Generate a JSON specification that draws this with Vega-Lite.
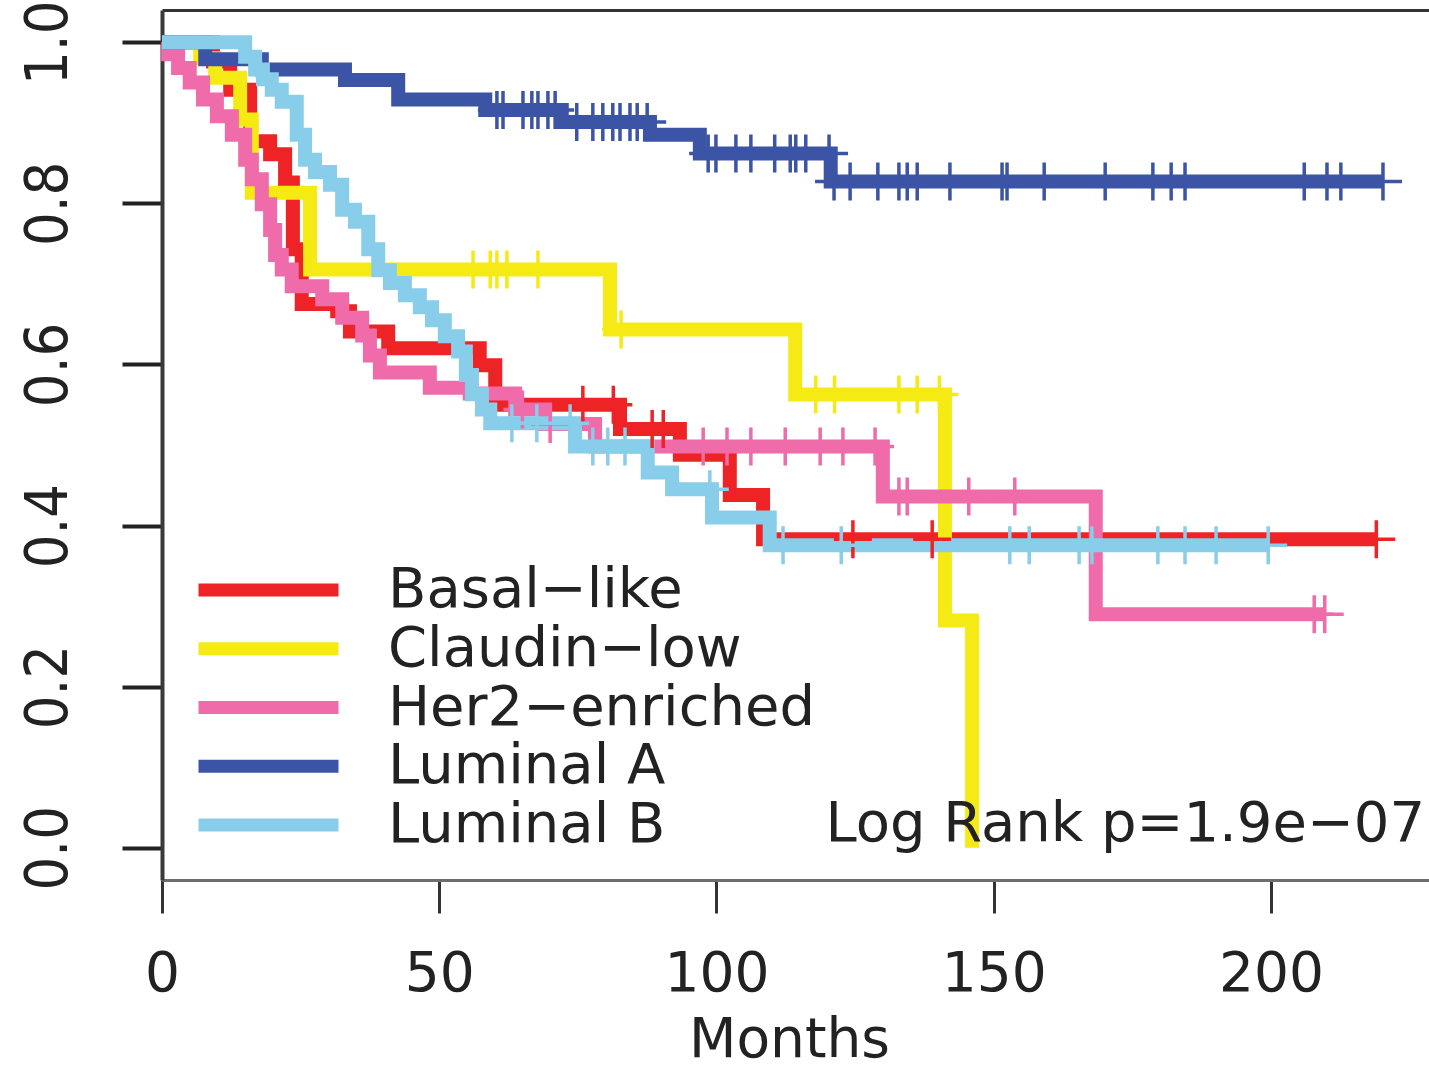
{
  "$schema": "https://vega.github.io/schema/vega-lite/v6.json",
  "width": 1267,
  "height": 870,
  "autosize": {"type": "none"},
  "padding": {"left": 162, "top": 10, "right": 0, "bottom": 191},
  "background": "white",
  "config": {
    "view": {"stroke": null},
    "font": "DejaVu Sans",
    "axisY": {
      "grid": false,
      "domain": true,
      "domainColor": "#3a3a3a",
      "domainWidth": 4,
      "ticks": true,
      "tickSize": 40,
      "tickWidth": 4,
      "tickColor": "#222222",
      "labelAngle": 270,
      "labelAlign": "center",
      "labelBaseline": "bottom",
      "labelPadding": 44,
      "labelFontSize": 59,
      "labelFont": "Liberation Sans Narrow, DejaVu Sans Condensed, Liberation Sans",
      "labelColor": "#222222",
      "labelFlush": false,
      "labelOverlap": false,
      "title": null
    }
  },
  "datasets": {
    "curves": [
      {"group": "Basal-like", "months": 0, "surv": 1},
      {"group": "Basal-like", "months": 9.2, "surv": 0.976},
      {"group": "Basal-like", "months": 12.3, "surv": 0.941},
      {"group": "Basal-like", "months": 15.9, "surv": 0.877},
      {"group": "Basal-like", "months": 19.5, "surv": 0.861},
      {"group": "Basal-like", "months": 22.2, "surv": 0.826},
      {"group": "Basal-like", "months": 23.6, "surv": 0.743},
      {"group": "Basal-like", "months": 25.2, "surv": 0.675},
      {"group": "Basal-like", "months": 31.6, "surv": 0.666},
      {"group": "Basal-like", "months": 33.9, "surv": 0.641},
      {"group": "Basal-like", "months": 40.8, "surv": 0.62},
      {"group": "Basal-like", "months": 57.3, "surv": 0.599},
      {"group": "Basal-like", "months": 60.1, "surv": 0.55},
      {"group": "Basal-like", "months": 82.6, "surv": 0.52},
      {"group": "Basal-like", "months": 93.4, "surv": 0.488},
      {"group": "Basal-like", "months": 102.4, "surv": 0.438},
      {"group": "Basal-like", "months": 108.4, "surv": 0.383},
      {"group": "Basal-like", "months": 219, "surv": 0.383},
      {"group": "Claudin-low", "months": 0, "surv": 1},
      {"group": "Claudin-low", "months": 6.9, "surv": 0.98},
      {"group": "Claudin-low", "months": 9.6, "surv": 0.956},
      {"group": "Claudin-low", "months": 14.1, "surv": 0.904},
      {"group": "Claudin-low", "months": 16.2, "surv": 0.813},
      {"group": "Claudin-low", "months": 26.7, "surv": 0.718},
      {"group": "Claudin-low", "months": 80.8, "surv": 0.6435},
      {"group": "Claudin-low", "months": 114.2, "surv": 0.5628},
      {"group": "Claudin-low", "months": 141.2, "surv": 0.282},
      {"group": "Claudin-low", "months": 146.1, "surv": 0},
      {"group": "Her2-enriched", "months": 0, "surv": 1},
      {"group": "Her2-enriched", "months": 1.1, "surv": 0.985},
      {"group": "Her2-enriched", "months": 2.9, "surv": 0.968},
      {"group": "Her2-enriched", "months": 5.0, "surv": 0.95},
      {"group": "Her2-enriched", "months": 7.4, "surv": 0.929},
      {"group": "Her2-enriched", "months": 9.9, "surv": 0.908},
      {"group": "Her2-enriched", "months": 12.6, "surv": 0.885},
      {"group": "Her2-enriched", "months": 15.0, "surv": 0.854},
      {"group": "Her2-enriched", "months": 16.2, "surv": 0.83},
      {"group": "Her2-enriched", "months": 18.0, "surv": 0.799},
      {"group": "Her2-enriched", "months": 19.5, "surv": 0.767},
      {"group": "Her2-enriched", "months": 20.4, "surv": 0.736},
      {"group": "Her2-enriched", "months": 21.6, "surv": 0.718},
      {"group": "Her2-enriched", "months": 23.4, "surv": 0.697},
      {"group": "Her2-enriched", "months": 28.9, "surv": 0.681},
      {"group": "Her2-enriched", "months": 32.5, "surv": 0.658},
      {"group": "Her2-enriched", "months": 36.1, "surv": 0.636},
      {"group": "Her2-enriched", "months": 37.5, "surv": 0.611},
      {"group": "Her2-enriched", "months": 39.3, "surv": 0.59},
      {"group": "Her2-enriched", "months": 48.3, "surv": 0.571},
      {"group": "Her2-enriched", "months": 55.5, "surv": 0.564},
      {"group": "Her2-enriched", "months": 63.7, "surv": 0.544},
      {"group": "Her2-enriched", "months": 69.1, "surv": 0.526},
      {"group": "Her2-enriched", "months": 78.1, "surv": 0.498},
      {"group": "Her2-enriched", "months": 130.0, "surv": 0.436},
      {"group": "Her2-enriched", "months": 168.4, "surv": 0.29},
      {"group": "Her2-enriched", "months": 209.7, "surv": 0.29},
      {"group": "Luminal A", "months": 0, "surv": 1},
      {"group": "Luminal A", "months": 7.8, "surv": 0.979},
      {"group": "Luminal A", "months": 18.0, "surv": 0.966},
      {"group": "Luminal A", "months": 33.0, "surv": 0.953},
      {"group": "Luminal A", "months": 42.6, "surv": 0.929},
      {"group": "Luminal A", "months": 58.3, "surv": 0.916},
      {"group": "Luminal A", "months": 72.1, "surv": 0.901},
      {"group": "Luminal A", "months": 88.0, "surv": 0.885},
      {"group": "Luminal A", "months": 97.0, "surv": 0.862},
      {"group": "Luminal A", "months": 120.6, "surv": 0.827},
      {"group": "Luminal A", "months": 220.2, "surv": 0.827},
      {"group": "Luminal B", "months": 0, "surv": 1},
      {"group": "Luminal B", "months": 15.0, "surv": 0.982},
      {"group": "Luminal B", "months": 16.8, "surv": 0.966},
      {"group": "Luminal B", "months": 18.2, "surv": 0.954},
      {"group": "Luminal B", "months": 19.8, "surv": 0.941},
      {"group": "Luminal B", "months": 21.6, "surv": 0.926},
      {"group": "Luminal B", "months": 24.3, "surv": 0.885},
      {"group": "Luminal B", "months": 25.8, "surv": 0.854},
      {"group": "Luminal B", "months": 27.6, "surv": 0.839},
      {"group": "Luminal B", "months": 30.3, "surv": 0.823},
      {"group": "Luminal B", "months": 32.5, "surv": 0.792},
      {"group": "Luminal B", "months": 34.8, "surv": 0.777},
      {"group": "Luminal B", "months": 37.2, "surv": 0.743},
      {"group": "Luminal B", "months": 39.0, "surv": 0.717},
      {"group": "Luminal B", "months": 41.1, "surv": 0.701},
      {"group": "Luminal B", "months": 43.8, "surv": 0.686},
      {"group": "Luminal B", "months": 46.5, "surv": 0.671},
      {"group": "Luminal B", "months": 48.7, "surv": 0.655},
      {"group": "Luminal B", "months": 51.0, "surv": 0.635},
      {"group": "Luminal B", "months": 53.4, "surv": 0.616},
      {"group": "Luminal B", "months": 54.8, "surv": 0.587},
      {"group": "Luminal B", "months": 55.9, "surv": 0.563},
      {"group": "Luminal B", "months": 57.7, "surv": 0.544},
      {"group": "Luminal B", "months": 59.2, "surv": 0.527},
      {"group": "Luminal B", "months": 74.5, "surv": 0.498},
      {"group": "Luminal B", "months": 87.6, "surv": 0.466},
      {"group": "Luminal B", "months": 92.0, "surv": 0.445},
      {"group": "Luminal B", "months": 99.2, "surv": 0.41},
      {"group": "Luminal B", "months": 109.6, "surv": 0.3755},
      {"group": "Luminal B", "months": 199.5, "surv": 0.3755}
    ],
    "censor": [
      {"group": "Basal-like", "months": 75.9, "surv": 0.55},
      {"group": "Basal-like", "months": 81.4, "surv": 0.55},
      {"group": "Basal-like", "months": 88.4, "surv": 0.52},
      {"group": "Basal-like", "months": 90.4, "surv": 0.52},
      {"group": "Basal-like", "months": 124.6, "surv": 0.383},
      {"group": "Basal-like", "months": 138.9, "surv": 0.383},
      {"group": "Basal-like", "months": 219, "surv": 0.383},
      {"group": "Claudin-low", "months": 56.1, "surv": 0.718},
      {"group": "Claudin-low", "months": 59.2, "surv": 0.718},
      {"group": "Claudin-low", "months": 60.4, "surv": 0.718},
      {"group": "Claudin-low", "months": 62.2, "surv": 0.718},
      {"group": "Claudin-low", "months": 67.8, "surv": 0.718},
      {"group": "Claudin-low", "months": 82.8, "surv": 0.6435},
      {"group": "Claudin-low", "months": 117.9, "surv": 0.5628},
      {"group": "Claudin-low", "months": 121.3, "surv": 0.5628},
      {"group": "Claudin-low", "months": 132.9, "surv": 0.5628},
      {"group": "Claudin-low", "months": 136.2, "surv": 0.5628},
      {"group": "Claudin-low", "months": 140.2, "surv": 0.5628},
      {"group": "Her2-enriched", "months": 65.0, "surv": 0.544},
      {"group": "Her2-enriched", "months": 70.0, "surv": 0.526},
      {"group": "Her2-enriched", "months": 97.6, "surv": 0.498},
      {"group": "Her2-enriched", "months": 101.9, "surv": 0.498},
      {"group": "Her2-enriched", "months": 106.2, "surv": 0.498},
      {"group": "Her2-enriched", "months": 112.4, "surv": 0.498},
      {"group": "Her2-enriched", "months": 118.7, "surv": 0.498},
      {"group": "Her2-enriched", "months": 122.8, "surv": 0.498},
      {"group": "Her2-enriched", "months": 128.6, "surv": 0.498},
      {"group": "Her2-enriched", "months": 132.9, "surv": 0.436},
      {"group": "Her2-enriched", "months": 134.4, "surv": 0.436},
      {"group": "Her2-enriched", "months": 145.5, "surv": 0.436},
      {"group": "Her2-enriched", "months": 153.8, "surv": 0.436},
      {"group": "Her2-enriched", "months": 207.8, "surv": 0.29},
      {"group": "Her2-enriched", "months": 209.7, "surv": 0.29},
      {"group": "Luminal A", "months": 60.4, "surv": 0.916},
      {"group": "Luminal A", "months": 61.5, "surv": 0.916},
      {"group": "Luminal A", "months": 65.1, "surv": 0.916},
      {"group": "Luminal A", "months": 66.7, "surv": 0.916},
      {"group": "Luminal A", "months": 67.8, "surv": 0.916},
      {"group": "Luminal A", "months": 69.6, "surv": 0.916},
      {"group": "Luminal A", "months": 70.9, "surv": 0.916},
      {"group": "Luminal A", "months": 74.8, "surv": 0.901},
      {"group": "Luminal A", "months": 77.7, "surv": 0.901},
      {"group": "Luminal A", "months": 79.5, "surv": 0.901},
      {"group": "Luminal A", "months": 81.3, "surv": 0.901},
      {"group": "Luminal A", "months": 82.6, "surv": 0.901},
      {"group": "Luminal A", "months": 84.4, "surv": 0.901},
      {"group": "Luminal A", "months": 85.7, "surv": 0.901},
      {"group": "Luminal A", "months": 87.5, "surv": 0.901},
      {"group": "Luminal A", "months": 98.5, "surv": 0.862},
      {"group": "Luminal A", "months": 99.9, "surv": 0.862},
      {"group": "Luminal A", "months": 103.5, "surv": 0.862},
      {"group": "Luminal A", "months": 106.2, "surv": 0.862},
      {"group": "Luminal A", "months": 110.5, "surv": 0.862},
      {"group": "Luminal A", "months": 113.3, "surv": 0.862},
      {"group": "Luminal A", "months": 114.3, "surv": 0.862},
      {"group": "Luminal A", "months": 116.1, "surv": 0.862},
      {"group": "Luminal A", "months": 120.3, "surv": 0.862},
      {"group": "Luminal A", "months": 121.2, "surv": 0.827},
      {"group": "Luminal A", "months": 124.1, "surv": 0.827},
      {"group": "Luminal A", "months": 129.1, "surv": 0.827},
      {"group": "Luminal A", "months": 132.9, "surv": 0.827},
      {"group": "Luminal A", "months": 134.4, "surv": 0.827},
      {"group": "Luminal A", "months": 136.2, "surv": 0.827},
      {"group": "Luminal A", "months": 142.1, "surv": 0.827},
      {"group": "Luminal A", "months": 151.5, "surv": 0.827},
      {"group": "Luminal A", "months": 152.4, "surv": 0.827},
      {"group": "Luminal A", "months": 159.1, "surv": 0.827},
      {"group": "Luminal A", "months": 170.1, "surv": 0.827},
      {"group": "Luminal A", "months": 178.7, "surv": 0.827},
      {"group": "Luminal A", "months": 182.0, "surv": 0.827},
      {"group": "Luminal A", "months": 184.5, "surv": 0.827},
      {"group": "Luminal A", "months": 206.0, "surv": 0.827},
      {"group": "Luminal A", "months": 210.1, "surv": 0.827},
      {"group": "Luminal A", "months": 212.6, "surv": 0.827},
      {"group": "Luminal A", "months": 220.2, "surv": 0.827},
      {"group": "Luminal B", "months": 63.1, "surv": 0.527},
      {"group": "Luminal B", "months": 67.6, "surv": 0.527},
      {"group": "Luminal B", "months": 73.6, "surv": 0.527},
      {"group": "Luminal B", "months": 77.7, "surv": 0.498},
      {"group": "Luminal B", "months": 80.4, "surv": 0.498},
      {"group": "Luminal B", "months": 83.5, "surv": 0.498},
      {"group": "Luminal B", "months": 98.8, "surv": 0.445},
      {"group": "Luminal B", "months": 112.0, "surv": 0.3755},
      {"group": "Luminal B", "months": 122.5, "surv": 0.3755},
      {"group": "Luminal B", "months": 152.9, "surv": 0.3755},
      {"group": "Luminal B", "months": 156.4, "surv": 0.3755},
      {"group": "Luminal B", "months": 165.4, "surv": 0.3755},
      {"group": "Luminal B", "months": 167.7, "surv": 0.3755},
      {"group": "Luminal B", "months": 179.6, "surv": 0.3755},
      {"group": "Luminal B", "months": 184.5, "surv": 0.3755},
      {"group": "Luminal B", "months": 190.1, "surv": 0.3755},
      {"group": "Luminal B", "months": 199.5, "surv": 0.3755}
    ]
  },
  "encoding": {
    "color": {
      "field": "group",
      "type": "nominal",
      "scale": {
        "domain": ["Basal-like", "Claudin-low", "Her2-enriched", "Luminal A", "Luminal B"],
        "range": ["#EE2326", "#F5EA14", "#EF6BA9", "#3B54A5", "#88CDE9"]
      },
      "legend": {
        "orient": "none",
        "legendX": 78.5,
        "legendY": 552,
        "padding": 0,
        "title": null,
        "symbolType": "M-5,0H5",
        "symbolSize": 784,
        "symbolStrokeWidth": 13,
        "symbolOffset": 0,
        "labelOffset": 91.5,
        "labelFontSize": 56,
        "labelFont": "DejaVu Sans",
        "labelColor": "#222222",
        "labelLimit": 0,
        "rowPadding": 2.75,
        "labelExpr": "replace(datum.label, '-', '\u2212')"
      }
    }
  },
  "layer": [
    {
      "data": {"name": "curves"},
      "mark": {"type": "line", "interpolate": "step-after", "strokeWidth": 14, "strokeCap": "butt", "strokeJoin": "miter"},
      "encoding": {
        "x": {
          "field": "months",
          "type": "quantitative",
          "scale": {"domain": [0, 228.5], "nice": false, "zero": false},
          "axis": {
            "orient": "bottom",
            "values": [0, 50, 100, 150, 200],
            "format": "d",
            "grid": false,
            "domain": true,
            "domainColor": "#6e6e6e",
            "domainWidth": 3,
            "ticks": true,
            "tickSize": 33,
            "tickWidth": 3,
            "tickColor": "#333333",
            "labelFontSize": 55,
            "labelFont": "DejaVu Sans",
            "labelColor": "#222222",
            "labelPadding": 34,
            "labelBaseline": "top",
            "labelFlush": false,
            "labelOverlap": false,
            "title": "Months",
            "titleFontSize": 55,
            "titleFont": "DejaVu Sans",
            "titleFontWeight": "normal",
            "titleColor": "#222222",
            "titleX": 627,
            "titleY": 176,
            "titleAlign": "center",
            "titleBaseline": "alphabetic"
          }
        },
        "y": {
          "field": "surv",
          "type": "quantitative",
          "scale": {"domain": [-0.04, 1.04], "nice": false, "zero": false},
          "axis": {"orient": "left", "title": null, "values": [0, 0.2, 0.4, 0.6, 0.8, 1.0], "format": ".1f"}
        }
      }
    },
    {
      "data": {"name": "censor"},
      "mark": {"type": "point", "shape": "M-1,0H1M0,-1V1", "filled": false, "size": 1444, "strokeWidth": 3.5, "opacity": 1},
      "encoding": {
        "x": {
          "field": "months",
          "type": "quantitative",
          "axis": {"orient": "top", "domain": true, "domainColor": "#333333", "domainWidth": 3, "ticks": false, "labels": false, "grid": false, "title": null}
        },
        "y": {"field": "surv", "type": "quantitative", "axis": {"orient": "left", "title": null, "values": [0, 0.2, 0.4, 0.6, 0.8, 1.0], "format": ".1f"}}
      }
    },
    {
      "data": {"values": [{"label": "Log Rank p=1.9e\u221207"}]},
      "mark": {"type": "text", "align": "right", "baseline": "alphabetic", "fontSize": 56, "font": "DejaVu Sans"},
      "encoding": {
        "text": {"field": "label"},
        "x": {"datum": 227.8, "type": "quantitative", "axis": null},
        "y": {"datum": 0.008, "type": "quantitative", "axis": {"orient": "left", "title": null, "values": [0, 0.2, 0.4, 0.6, 0.8, 1.0], "format": ".1f"}},
        "color": {"value": "#222222"}
      }
    }
  ],
  "resolve": {"axis": {"x": "independent"}}
}
